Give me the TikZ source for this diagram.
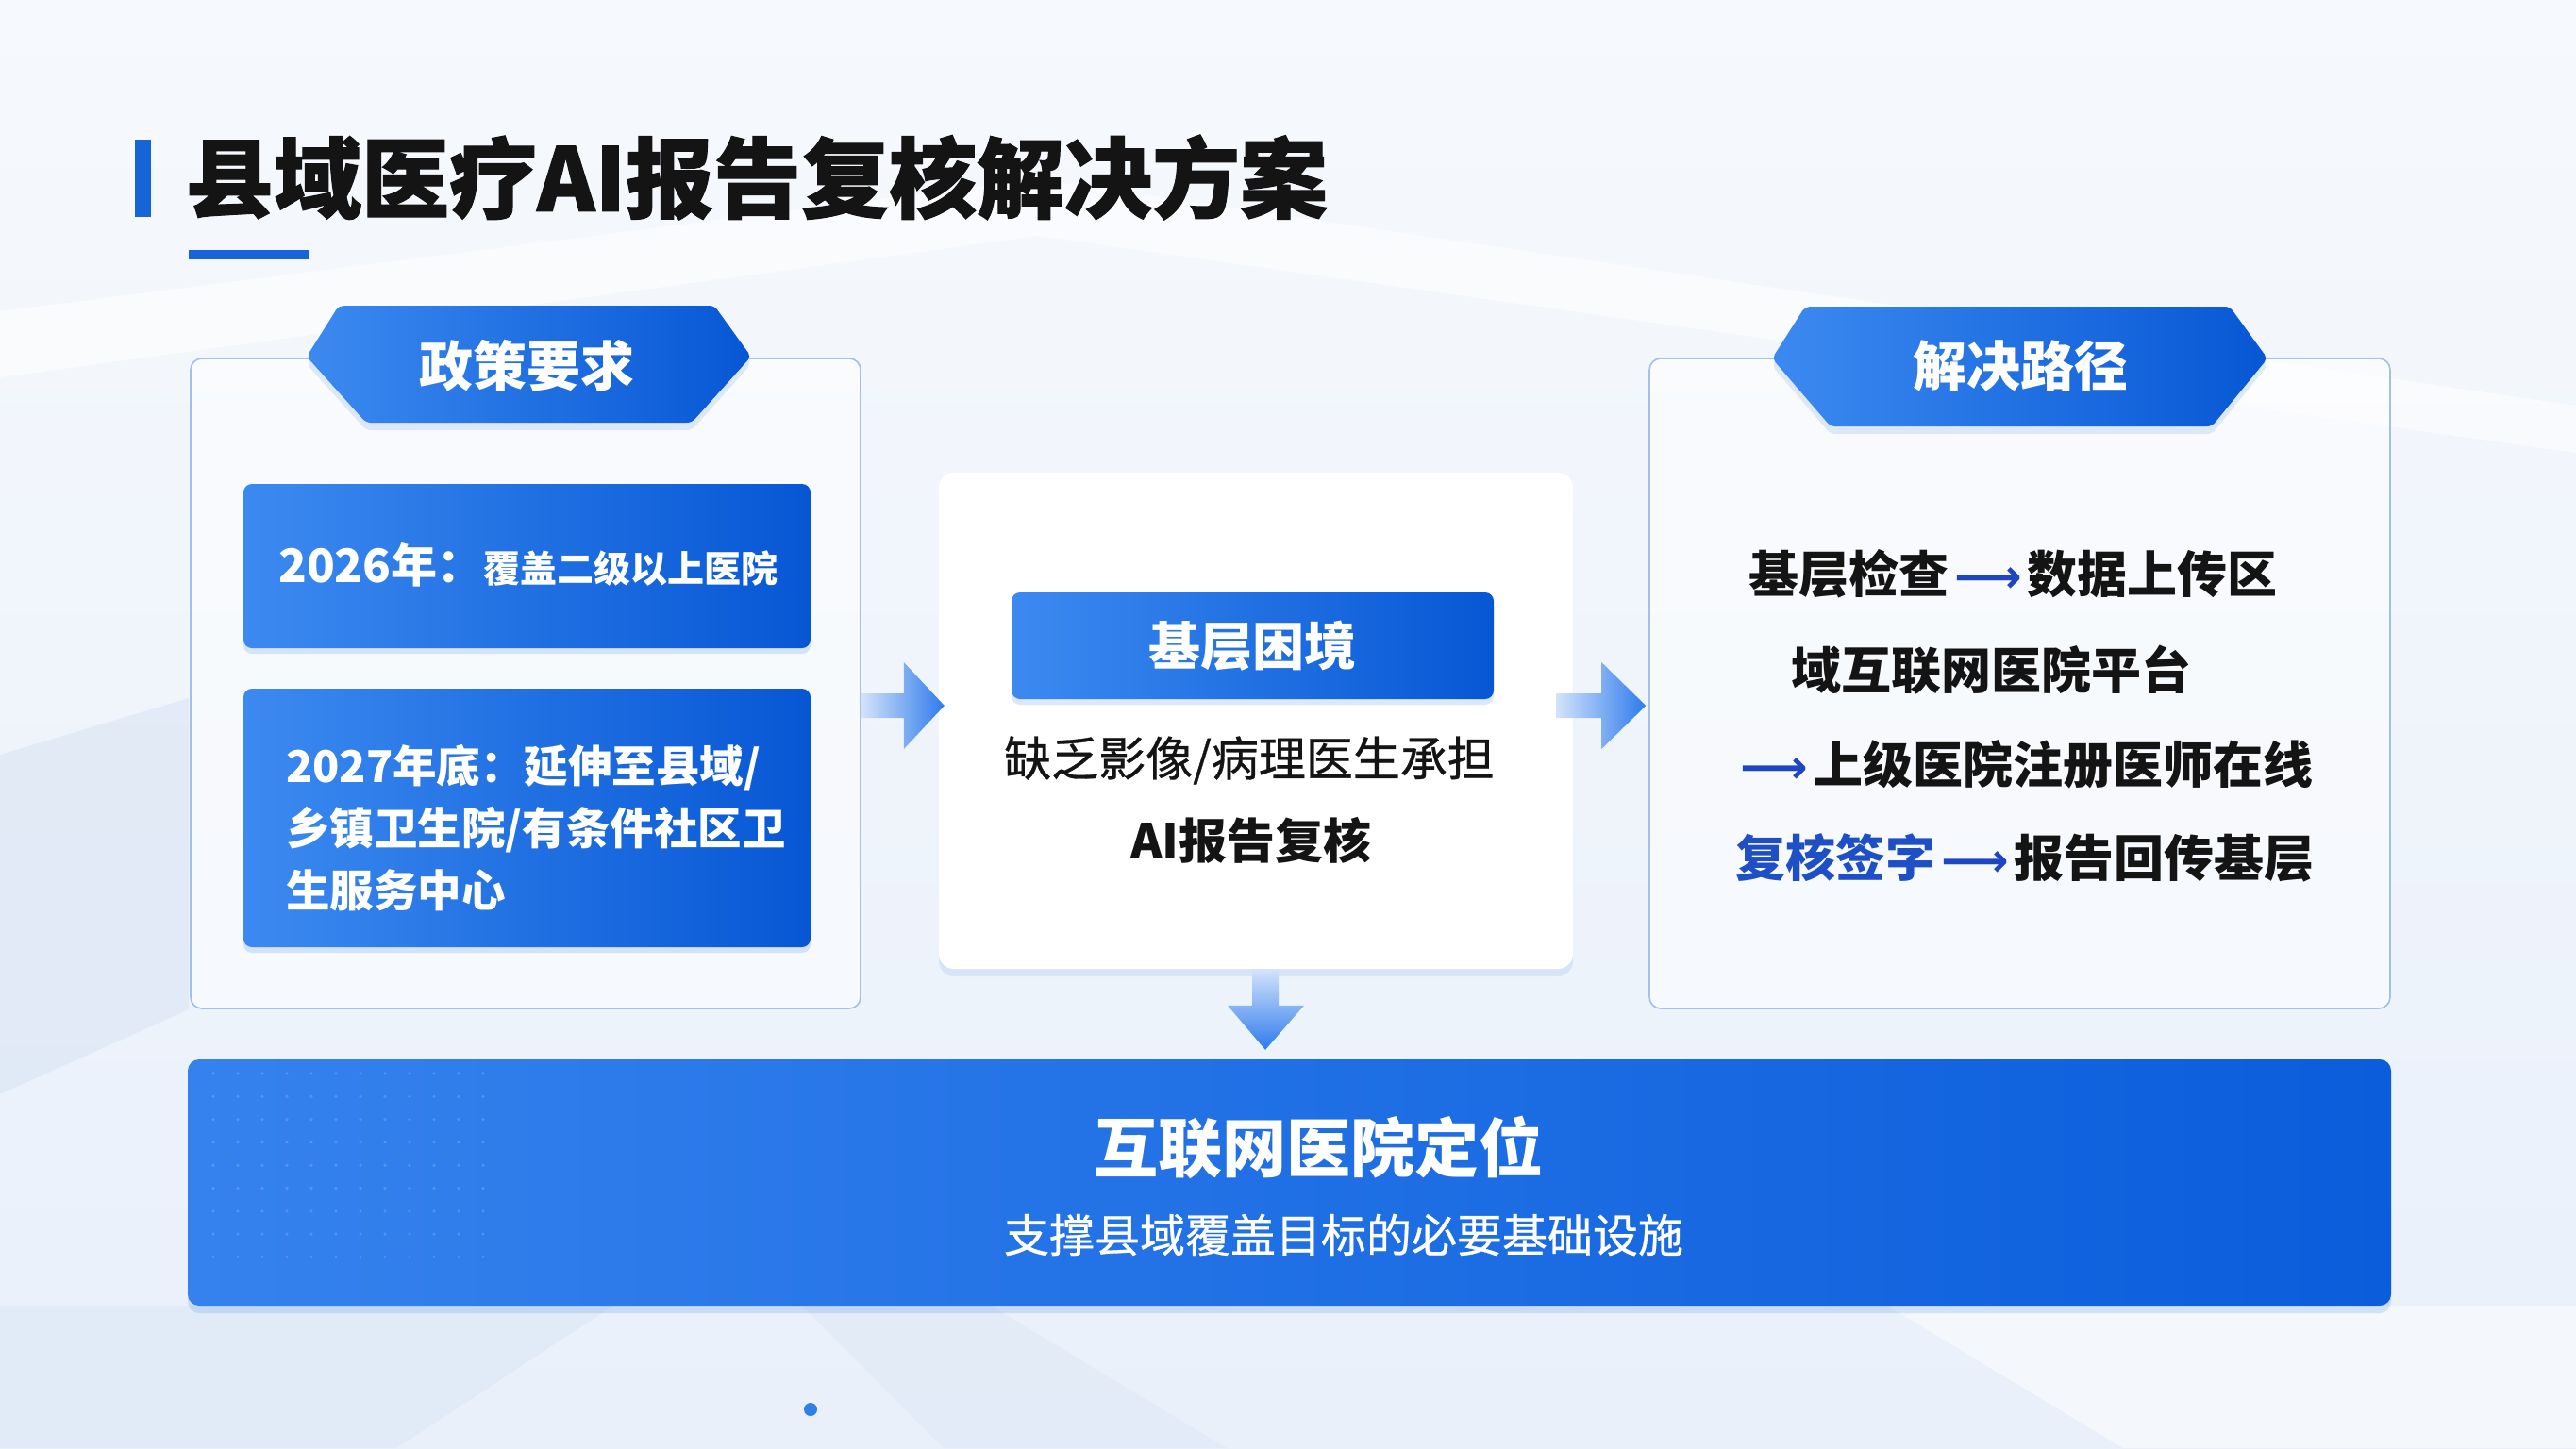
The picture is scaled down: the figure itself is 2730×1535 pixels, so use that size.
\documentclass[tikz,border=0pt]{standalone}
\usepackage{fontspec}
\setmainfont{Noto Sans CJK SC}
\newfontfamily\arrowfont{DejaVu Sans}
\newfontfamily\heavyfont[BoldFeatures={FakeBold=1.2}]{Noto Sans CJK SC}
\newfontfamily\mediumfont[UprightFeatures={FakeBold=0.6}]{Noto Sans CJK SC}
\usetikzlibrary{shadows,calc}
\definecolor{bgT}{HTML}{F6F9FD}
\definecolor{bgB}{HTML}{E9F0FA}
\definecolor{mainBlue}{HTML}{1565D8}
\definecolor{boxL}{HTML}{3C8AF0}
\definecolor{boxR}{HTML}{0757D5}
\definecolor{bandL}{HTML}{3582EE}
\definecolor{bandR}{HTML}{0B5DDB}
\definecolor{panelB}{HTML}{A3C0E8}
\definecolor{inkC}{HTML}{141414}
\definecolor{blueT}{HTML}{1F4FC6}
\definecolor{arrowB}{HTML}{1E46C2}
\definecolor{arrL}{HTML}{D3E3FA}
\definecolor{arrR}{HTML}{2E7BEC}
\definecolor{planeC}{HTML}{D3E0F2}
\definecolor{dotC}{HTML}{2F7FE6}
\newcommand{\larr}{\hspace{6pt}{\arrowfont\bfseries\fontsize{50}{60}\selectfont\textcolor{arrowB}{⟶}}\hspace{6pt}}
\begin{document}
\begin{tikzpicture}[x=1pt,y=-1pt,
  panel/.style={draw=panelB, line width=1.6pt, fill=white, fill opacity=0.5, rounded corners=12pt, inner sep=0pt},
  midpanel/.style={fill=white, rounded corners=16pt, inner sep=0pt,
    drop shadow={opacity=0.10, shadow xshift=0pt, shadow yshift=-8pt, fill=mainBlue}},
  bluebox/.style={left color=boxL, right color=boxR, rounded corners=9pt, inner sep=0pt, text=white,
    drop shadow={opacity=0.15, shadow xshift=0pt, shadow yshift=-6pt, fill=mainBlue}},
  bandbox/.style={left color=bandL, right color=bandR, rounded corners=12pt, inner sep=0pt,
    drop shadow={opacity=0.15, shadow xshift=0pt, shadow yshift=-8pt, fill=mainBlue}},
  hextext/.style={text=white, inner sep=0pt, font=\fontsize{57}{68}\selectfont\bfseries},
  pathtext/.style={anchor=west, inner sep=0pt, text=inkC, font=\fontsize{53}{64}\selectfont\bfseries},
  midtext/.style={inner sep=0pt, text=inkC, font=\mediumfont\fontsize{50}{60}\selectfont},
]
\useasboundingbox (0,0) rectangle (2730,1535);
% background
\shade[top color=bgT, bottom color=bgB] (0,0) rectangle (2730,1535);
\fill[white, opacity=0.55] (0,330) -- (1100,190) -- (2730,430) -- (2730,480) -- (1100,250) -- (0,400) -- cycle;
\fill[planeC, opacity=0.45] (0,800) -- (200,740) -- (200,1070) -- (0,1160) -- cycle;
\fill[planeC, opacity=0.35] (0,1384) -- (650,1384) -- (420,1535) -- (0,1535) -- cycle;
\fill[planeC, opacity=0.30] (1050,1384) -- (1300,1535) -- (1000,1535) -- (850,1384) -- cycle;
\fill[white, opacity=0.5] (2000,1384) -- (2730,1384) -- (2730,1535) -- (2250,1535) -- cycle;
% title
\fill[mainBlue] (143,148) rectangle (160,230);
\node[anchor=west, inner sep=0pt, text=inkC, font=\heavyfont\fontsize{93}{110}\selectfont\bfseries] (title) at (197,188) {县域医疗AI报告复核解决方案};
\fill[mainBlue] (200,265) rectangle (327,275);
% panels
\node[panel, minimum width=710pt, minimum height=689pt] (panelL) at (557,724.5) {};
\node[panel, minimum width=785pt, minimum height=689pt] (panelR) at (2140.5,724.5) {};
\node[midpanel, minimum width=672pt, minimum height=526pt] (panelM) at (1331,764) {};
% hexagon headers
\fill[mainBlue, opacity=0.12, rounded corners=5pt] (359,332) -- (757,332) -- (796,386) -- (733,456) -- (388,456) -- (325,386) -- cycle;
\shade[left color=boxL, right color=boxR, rounded corners=5pt] (359,324) -- (757,324) -- (796,378) -- (733,448) -- (388,448) -- (325,378) -- cycle;
\node[hextext] (hdrL) at (558,388) {政策要求};
\fill[mainBlue, opacity=0.12, rounded corners=5pt] (1913,333) -- (2363,333) -- (2403,388) -- (2344,460) -- (1940,460) -- (1878,388) -- cycle;
\shade[left color=boxL, right color=boxR, rounded corners=5pt] (1913,325) -- (2363,325) -- (2403,380) -- (2344,452) -- (1940,452) -- (1878,380) -- cycle;
\node[hextext] (hdrR) at (2141,388) {解决路径};
% left boxes
\node[bluebox, minimum width=601pt, minimum height=174pt] (box1) at (558.5,600) {};
\node[anchor=west, inner sep=0pt, text=white] (t1) at (295,599) {\fontsize{49}{58}\selectfont\bfseries 2026年：\fontsize{39}{48}\selectfont\bfseries 覆盖二级以上医院};
\node[bluebox, minimum width=601pt, minimum height=274pt] (box2) at (558.5,867) {};
\node[anchor=west, inner sep=0pt, text=white, align=left, font=\fontsize{46.5}{66}\selectfont\bfseries] (t2) at (303,878) {2027年底：延伸至县域/\\乡镇卫生院/有条件社区卫\\生服务中心};
% middle
\node[bluebox, minimum width=511pt, minimum height=113pt, font=\fontsize{55}{66}\selectfont\bfseries] (dil) at (1327.5,684.5) {基层困境};
\node[midtext] (m1) at (1324,806) {缺乏影像/病理医生承担};
\node[midtext, font=\fontsize{51}{60}\selectfont\bfseries] (m2) at (1326,891) {AI报告复核};
% right
\node[pathtext] (r1) at (1853,608) {基层检查\larr 数据上传区};
\node[pathtext] (r2) at (1898,710) {域互联网医院平台};
\node[pathtext] (r3) at (1838,810) {\larr 上级医院注册医师在线};
\node[pathtext] (r4) at (1839,909) {\textcolor{blueT}{复核签字}\larr 报告回传基层};
% band
\node[bandbox, minimum width=2335pt, minimum height=261pt] (band) at (1366.5,1253.5) {};
\foreach \i in {0,...,11} \foreach \j in {0,...,8}
  \fill[white, opacity=0.16] ({226+\i*26},{1138+\j*24.3}) circle (1.8pt);
\node[inner sep=0pt, text=white, font=\fontsize{68}{80}\selectfont\bfseries] (bt1) at (1397,1216) {互联网医院定位};
\node[inner sep=0pt, text=white, font=\mediumfont\fontsize{48}{58}\selectfont] (bt2) at (1424,1309) {支撑县域覆盖目标的必要基础设施};
% block arrows
\coordinate (aLs) at ($(panelL.east)+(0,23.5)$);
\coordinate (aLt) at ($(panelM.west)+(6,-16)$);
\shade[left color=arrL, right color=arrR] ($(aLs)+(0,-13)$) -- ($(aLt)+(-43,-13)$) -- ($(aLt)+(-43,-46)$) -- (aLt) -- ($(aLt)+(-43,46)$) -- ($(aLt)+(-43,13)$) -- ($(aLs)+(0,13)$) -- cycle;
\coordinate (aRs) at ($(panelM.east)+(-18,-16)$);
\coordinate (aRt) at ($(panelR.west)+(-3,23.5)$);
\shade[left color=arrL, right color=arrR] ($(aRs)+(0,-13)$) -- ($(aRt)+(-47,-13)$) -- ($(aRt)+(-47,-46)$) -- (aRt) -- ($(aRt)+(-47,46)$) -- ($(aRt)+(-47,13)$) -- ($(aRs)+(0,13)$) -- cycle;
\coordinate (aDs) at ($(panelM.south)+(10,0)$);
\coordinate (aDt) at ($(band.north)+(-25.5,-10)$);
\shade[top color=arrL, bottom color=arrR] ($(aDs)+(-14,0)$) -- ($(aDs)+(14,0)$) -- ($(aDt)+(14,-47)$) -- ($(aDt)+(41,-47)$) -- (aDt) -- ($(aDt)+(-40,-47)$) -- ($(aDt)+(-14,-47)$) -- cycle;
% page dot
\fill[dotC] (859,1494) circle (7pt);
\end{tikzpicture}
\end{document}
